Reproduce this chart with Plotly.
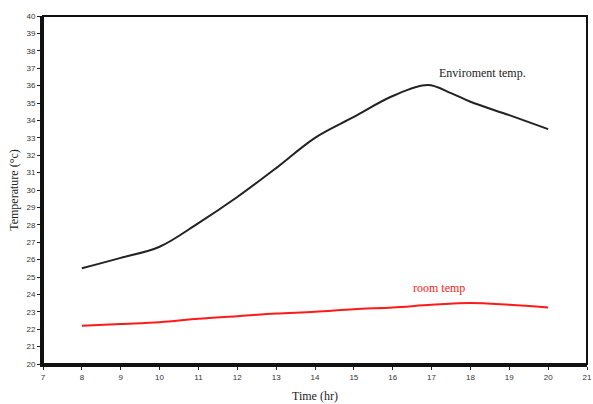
import plotly.graph_objects as go

time_hr = [8, 9, 10, 11, 12, 13, 14, 15, 16, 16.9, 17.5, 18, 19, 20]
env_temp = [25.5, 26.1, 26.74, 28.1, 29.6, 31.26, 33.0, 34.2, 35.4, 36.03, 35.57, 35.07, 34.3, 33.5]
room_time = [8, 9, 10, 11, 12, 13, 14, 15, 16, 17, 18, 19, 20]
room_temp = [22.2, 22.3, 22.4, 22.6, 22.75, 22.9, 23.0, 23.15, 23.25, 23.4, 23.5, 23.4, 23.25]

fig = go.Figure()
fig.add_trace(go.Scatter(x=time_hr, y=env_temp, mode="lines",
                         line=dict(color="#222222", width=2, shape="spline", smoothing=1.0),
                         showlegend=False))
fig.add_trace(go.Scatter(x=room_time, y=room_temp, mode="lines",
                         line=dict(color="#ff1a1a", width=2, shape="spline", smoothing=1.0),
                         showlegend=False))

fig.add_annotation(x=18.3, y=36.7, text="Enviroment temp.", showarrow=False,
                   font=dict(family="Liberation Serif", size=12, color="#222222"))
fig.add_annotation(x=17.2, y=24.37, text="room temp", showarrow=False,
                   font=dict(family="Liberation Serif", size=12, color="#ff2020"))

# thinner frame on top/right
fig.add_shape(type="rect", xref="paper", yref="paper", x0=0, y0=0, x1=1, y1=1,
              line=dict(color="#111111", width=2), layer="above")

axis_common = dict(showgrid=False, zeroline=False, ticks="outside", ticklen=3,
                   tickcolor="#222222", tickfont=dict(family="Liberation Sans", size=8, color="#333333"),
                   showline=True, linecolor="#111111", linewidth=3, automargin=False)

fig.update_xaxes(range=[7, 21], tickmode="linear", tick0=7, dtick=1,
                 title=dict(text="Time (hr)", font=dict(family="Liberation Serif", size=12, color="#222222"), standoff=12),
                 **axis_common)
fig.update_yaxes(range=[20, 40], tickmode="linear", tick0=20, dtick=1,
                 title=dict(text="Temperature (°c)", font=dict(family="Liberation Serif", size=12, color="#222222"), standoff=6),
                 **axis_common)

fig.update_layout(width=593, height=404, margin=dict(l=43, r=6, t=16, b=40),
                  plot_bgcolor="white", paper_bgcolor="white")

fig.write_html("out.html", config={"displayModeBar": False},
               post_script="document.body.style.margin='0';")
